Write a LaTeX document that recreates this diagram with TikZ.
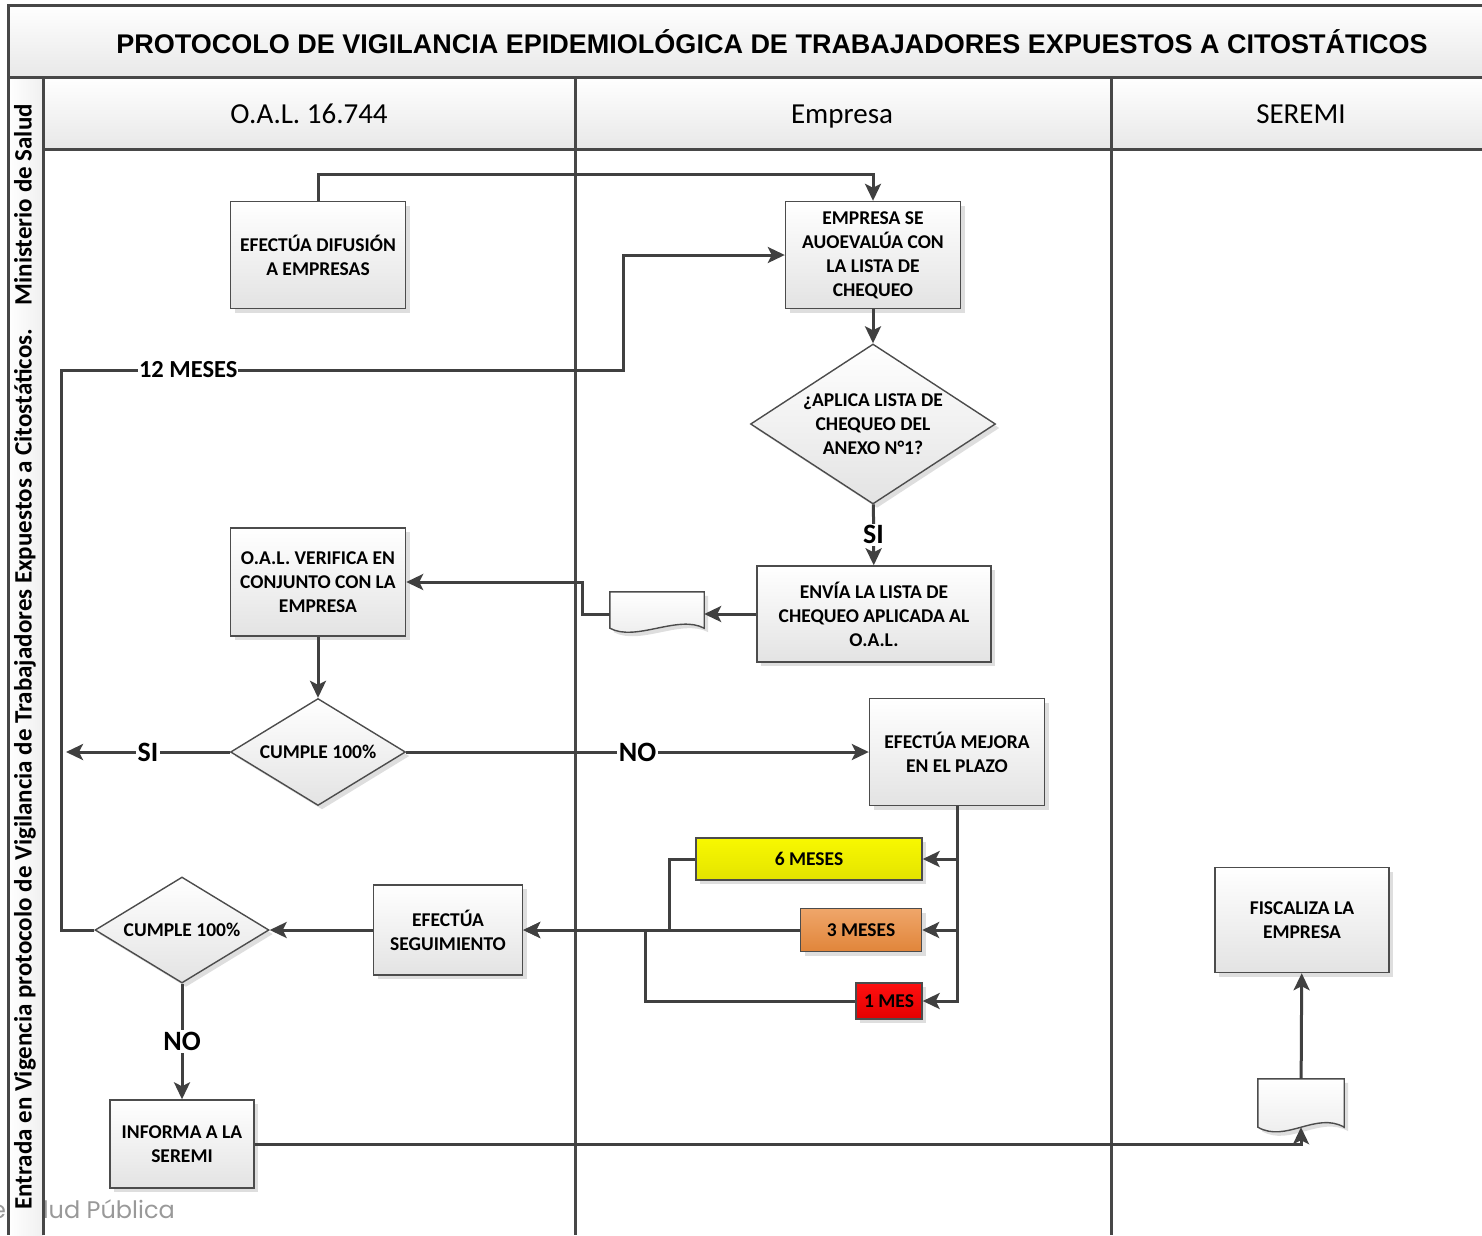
\documentclass[tikz,border=0pt]{standalone}
\usepackage{fontspec}
\setmainfont{Carlito}
\newfontfamily\titlefont{Liberation Sans}
\newfontfamily\markfont{Poppins}
\usepackage{tikz}
\usetikzlibrary{shapes,arrows,positioning,arrows.meta,shadows}

\definecolor{seisA}{HTML}{F8F800}
\definecolor{seisB}{HTML}{E4E400}
\definecolor{tresA}{HTML}{EFA66A}
\definecolor{tresB}{HTML}{E1853A}
\definecolor{unoA}{HTML}{FF1010}
\definecolor{unoB}{HTML}{E30000}

\tikzset{
  box/.style={draw=black!70, line width=1.4pt, rectangle, align=center, inner sep=0pt,
    font=\fontsize{19.5}{24}\selectfont\bfseries,
    top color=white, bottom color=black!11,
    drop shadow={shadow xshift=4pt, shadow yshift=-4pt, fill=black!13, opacity=1}},
  choice/.style={box, diamond, aspect=1.53},
  plazo/.style={box, minimum height=42pt},
  docbox/.style={rectangle, inner sep=0pt},
  docline/.style={draw=black!70, line width=1.4pt, top color=white, bottom color=black!8,
    drop shadow={shadow xshift=4pt, shadow yshift=-4pt, fill=black!13, opacity=1}},
  lane/.style={draw=black!72, line width=3pt},
  flow/.style={draw=black!75, line width=3pt, ->, >={Stealth[length=17pt,width=16pt,inset=4pt]}},
  link/.style={draw=black!75, line width=3pt},
  tag/.style={fill=white, inner sep=2pt, font=\fontsize{28}{30}\selectfont\bfseries},
  hdr/.style={anchor=base, font=\fontsize{29}{32}\selectfont},
}

\begin{document}
\begin{tikzpicture}[x=1pt, y=-1pt]
    \useasboundingbox (0,0) rectangle (1482,1235);

    % title band and lane headers
    \fill[top color=white, bottom color=black!9] (8,5) rectangle (1482,77);
    \fill[top color=white, bottom color=black!9] (43,77) rectangle (1482,149);
    \node[anchor=base east, inner sep=0pt, font=\markfont\fontsize{24}{26}\selectfont, text=black!40] (marca) at (175,1218) {de Salud Pública};
    \fill[left color=white, right color=black!6] (8,77) rectangle (43,1235);
    \draw[lane] (1482,5) -- (8,5) -- (8,1235);
    \draw[lane] (8,77) -- (1482,77);
    \draw[lane] (43,149) -- (1482,149);
    \foreach \x in {43,575,1111}
        \draw[lane] (\x,77) -- (\x,1235);

    \node[font=\titlefont\fontsize{27}{30}\selectfont\bfseries] (titulo) at (772,42) {PROTOCOLO DE VIGILANCIA EPIDEMIOLÓGICA DE TRABAJADORES EXPUESTOS A CITOSTÁTICOS};
    \node[rotate=90, font=\fontsize{25}{26}\selectfont\bfseries] (ley) at (25,657) {Entrada en Vigencia protocolo de Vigilancia de Trabajadores Expuestos a Citostáticos.\hspace{16pt} Ministerio de Salud};
    \node[hdr] (oal) at (309,123) {O.A.L. 16.744};
    \node[hdr] (empresa) at (842,123) {Empresa};
    \node[hdr] (seremi) at (1301,123) {SEREMI};

    % steps
    \node[box, minimum width=175pt, minimum height=107pt] (difusion) at (318,255) {EFECTÚA DIFUSIÓN\\A EMPRESAS};
    \node[box, minimum width=175pt, minimum height=107pt] (autoeval) at (873,255) {EMPRESA SE\\AUOEVALÚA CON\\LA LISTA DE\\CHEQUEO};
    \node[choice, minimum width=245pt, minimum height=160pt] (aplica) at (873,424) {¿APLICA LISTA DE\\CHEQUEO DEL\\ANEXO N°1?};
    \node[box, minimum width=234pt, minimum height=96pt] (envia) at (874,614) {ENVÍA LA LISTA DE\\CHEQUEO APLICADA AL\\O.A.L.};
    \node[docbox, minimum width=94pt, minimum height=36pt] (doc1) at (657,610) {};
    \draw[docline] (doc1.south west) -- (doc1.north west) -- (doc1.north east) -- (doc1.south east) .. controls +(-26,-14) and +(26,14) .. (doc1.south west) -- cycle;
    \node[box, minimum width=175pt, minimum height=108pt] (verifica) at (318,582) {O.A.L. VERIFICA EN\\CONJUNTO CON LA\\EMPRESA};
    \node[choice, aspect=1.64, minimum width=175pt, minimum height=107pt] (cumple1) at (318,752) {CUMPLE 100\%};
    \node[box, minimum width=175pt, minimum height=107pt] (mejora) at (957,752) {EFECTÚA MEJORA\\EN EL PLAZO};
    \node[plazo, minimum width=226pt, top color=seisA, bottom color=seisB] (seis) at (809,859) {6 MESES};
    \node[plazo, minimum width=121pt, minimum height=43pt, top color=tresA, bottom color=tresB] (tres) at (861,930) {3 MESES};
    \node[plazo, minimum width=66pt, minimum height=36pt, top color=unoA, bottom color=unoB] (uno) at (889,1001) {1 MES};
    \node[box, minimum width=149pt, minimum height=90pt] (seguim) at (448,930) {EFECTÚA\\SEGUIMIENTO};
    \node[choice, aspect=1.64, minimum width=174pt, minimum height=106pt] (cumple2) at (182,930) {CUMPLE 100\%};
    \node[box, minimum width=144pt, minimum height=88pt] (informa) at (182,1144) {INFORMA A LA\\SEREMI};
    \node[docbox, minimum width=86pt, minimum height=48pt] (doc2) at (1301,1103) {};
    \draw[docline] (doc2.south west) -- (doc2.north west) -- (doc2.north east) -- (doc2.south east) .. controls +(-28,-16) and +(28,16) .. (doc2.south west) -- cycle;
    \node[box, minimum width=174pt, minimum height=105pt] (fiscaliza) at (1302,920) {FISCALIZA LA\\EMPRESA};
    \coordinate (salida) at (66,752);
    \coordinate (cruce) at (645,930);

    % connectors
    \draw[flow] (difusion.north) -- ++(0,-26) -| (autoeval.north);
    \draw[flow] (autoeval) -- (aplica);
    \draw[flow] (aplica) -- node[tag] {SI} (envia);
    \draw[flow] (envia) -- (envia -| doc1.east);
    \draw[flow] (envia -| doc1.west) -- ++(-27,0) |- (verifica.east);
    \draw[flow] (verifica) -- (cumple1);
    \draw[flow] (cumple1.west) -- node[tag] {SI} (salida);
    \draw[flow] (cumple1.east) -- node[tag] {NO} (mejora.west);
    \draw[flow] (mejora.south) |- (seis.east);
    \draw[flow] (mejora.south) |- (tres.east);
    \draw[flow] (mejora.south) |- (uno.east);
    \draw[flow] (seis.west) -- ++(-26,0) |- (seguim.east);
    \draw[flow] (tres) -- (seguim);
    \draw[link] (uno.west) -| (cruce);
    \draw[flow] (seguim) -- (cumple2);
    \draw[flow] (cumple2.west) -- ++(-33,0) |- node[tag, pos=0.613, font=\fontsize{24.5}{26}\selectfont\bfseries, inner sep=1pt] {12 MESES} (623,370) |- (autoeval.west);
    \draw[flow] (cumple2) -- node[tag] {NO} (informa);
    \draw[flow] (informa.east) -| (doc2.south);
    \draw[flow] (doc2) -- (fiscaliza);
\end{tikzpicture}
\end{document}
